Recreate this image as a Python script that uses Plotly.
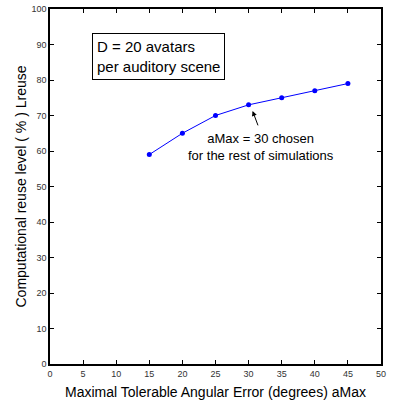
import plotly.graph_objects as go

x_vals = [15, 20, 25, 30, 35, 40, 45]
y_vals = [59, 65, 70, 73, 75, 77, 79]
x_ticks = [0, 5, 10, 15, 20, 25, 30, 35, 40, 45, 50]
y_ticks = [0, 10, 20, 30, 40, 50, 60, 70, 80, 90, 100]

fig = go.Figure()
fig.add_trace(go.Scatter(
    x=x_vals, y=y_vals, mode="lines+markers",
    line=dict(color="#0000ff", width=1),
    marker=dict(color="#0000ff", size=5),
    showlegend=False,
))

axis_common = dict(
    showline=True, linecolor="black", linewidth=1.5, mirror="ticks",
    ticks="inside", ticklen=4, tickcolor="black", tickwidth=1,
    showgrid=False, zeroline=False, automargin=False,
    tickfont=dict(family="Liberation Sans Narrow, Liberation Sans, Arial", size=9, color="#333333"),
)

fig.update_layout(
    width=400, height=406,
    margin=dict(l=50, r=19, t=9, b=42),
    paper_bgcolor="white", plot_bgcolor="white",
    xaxis=dict(range=[0, 50], tickvals=x_ticks, ticktext=[str(v) for v in x_ticks],
               title=dict(text="Maximal Tolerable Angular Error (degrees) aMax",
                          font=dict(family="Liberation Sans, Arial", size=14, color="black"),
                          standoff=10),
               **axis_common),
    yaxis=dict(range=[0, 100], tickvals=y_ticks, ticktext=[str(v) for v in y_ticks],
               title=dict(text="Computational reuse level ( % ) Lreuse",
                          font=dict(family="Liberation Sans, Arial", size=14, color="black"),
                          standoff=2),
               **axis_common),
    annotations=[
        dict(x=0.128, y=0.933, xref="paper", yref="paper", xanchor="left", yanchor="top",
             text="D = 20 avatars<br>per auditory scene", showarrow=False, align="left",
             font=dict(family="Liberation Sans, Arial", size=15, color="black"),
             bordercolor="black", borderwidth=1, borderpad=4, bgcolor="white"),
        dict(x=30.6, y=71.3, xref="x", yref="y", ax=31.5, ay=66.8, axref="x", ayref="y",
             text="", showarrow=True, arrowhead=2, arrowsize=1, arrowwidth=1, arrowcolor="black"),
        dict(x=31.8, y=66.2, xref="x", yref="y", xanchor="center", yanchor="top",
             text="aMax = 30 chosen<br>for the rest of simulations", showarrow=False,
             font=dict(family="Liberation Sans, Arial", size=13, color="black")),
    ],
)

fig.write_html("out.html", config={"displayModeBar": False},
               post_script="document.body.style.margin='0';")
